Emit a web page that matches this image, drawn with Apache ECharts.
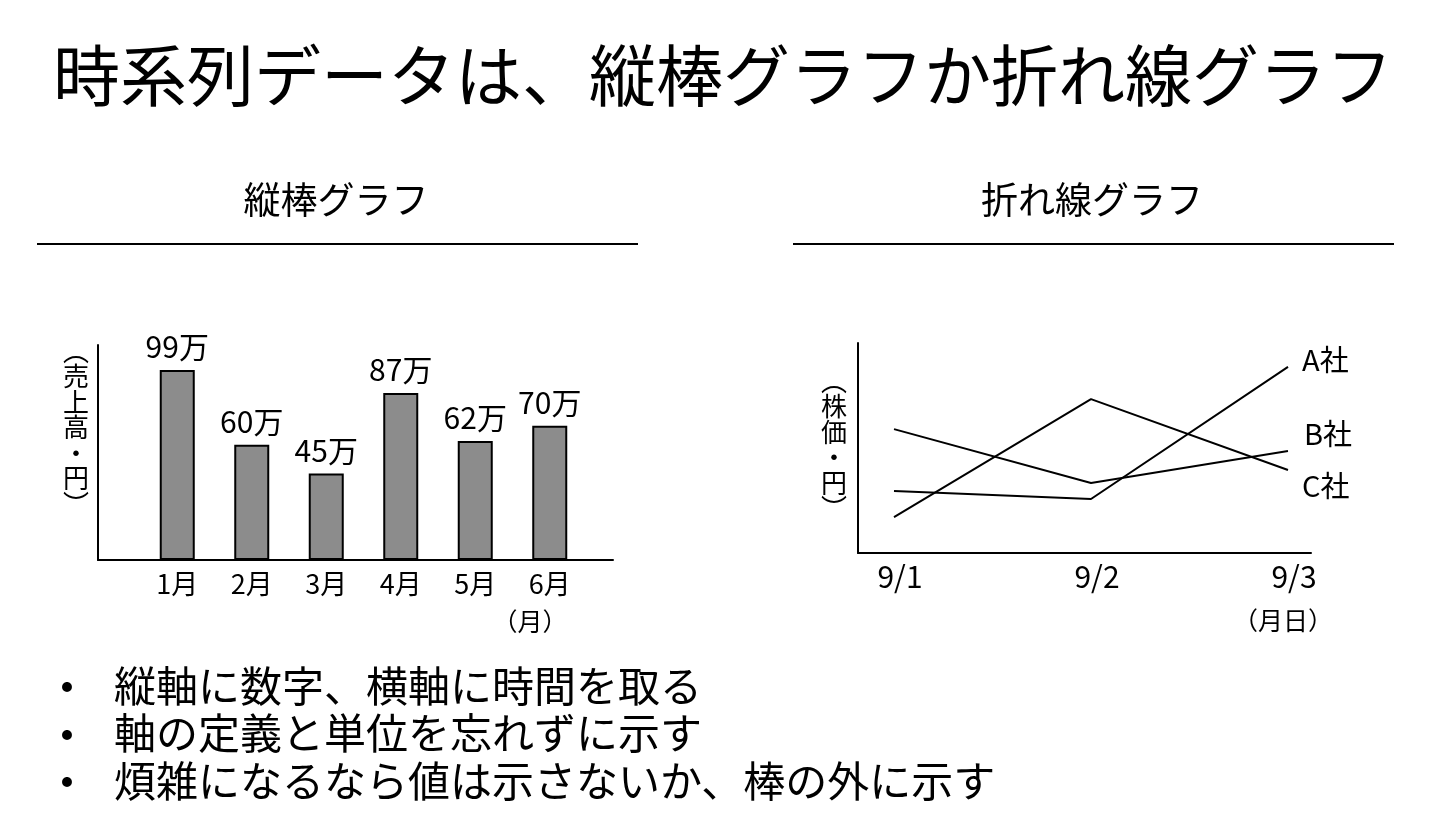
<!DOCTYPE html>
<html>
<head>
<meta charset="utf-8">
<script src="https://cdn.jsdelivr.net/npm/echarts@6/dist/echarts.min.js"></script>
<style>
html,body{margin:0;padding:0;background:#fff;}
#chart{width:1432px;height:837px;}
</style>
</head>
<body>
<div id="chart"></div>
<script>
// ---- data ----
const barMonths = ['1月', '2月', '3月', '4月', '5月', '6月'];
const barValues = [99, 60, 45, 87, 62, 70];   // 万円
const lineDates = ['9/1', '9/2', '9/3'];
const companyNames = ['A社', 'B社', 'C社'];
const companyA = [29.5, 25.7, 88.6];
const companyB = [59, 33.3, 48.6];
const companyC = [17.1, 73.3, 39.5];

const titleText = '時系列データは、縦棒グラフか折れ線グラフ';
const subTitles = ['縦棒グラフ', '折れ線グラフ'];
const bullets = ['縦軸に数字、横軸に時間を取る', '軸の定義と単位を忘れずに示す', '煩雑になるなら値は示さないか、棒の外に示す'];

const FONT = '"Noto Sans CJK JP", "Noto Sans", sans-serif';
const chart = echarts.init(document.getElementById('chart'));

function txt(text, x, y, size, align, vAlign, extra) {
  return {
    type: 'text', x: x, y: y, silent: true,
    style: Object.assign({
      text: text, fontSize: size, fontFamily: FONT, fill: '#000',
      align: align || 'center', verticalAlign: vAlign || 'middle'
    }, extra || {})
  };
}
function hline(x1, x2, y, w) {
  return { type: 'line', silent: true, shape: { x1: x1, y1: y, x2: x2, y2: y }, style: { stroke: '#000', lineWidth: w } };
}

const graphics = [
  txt(titleText, 723, 76, 67),
  txt(subTitles[0], 336, 200, 37),
  txt(subTitles[1], 1092, 200, 37),
  hline(37, 638, 244, 2),
  hline(793, 1394, 244, 2),
  txt('︵\n売\n上\n高\n・\n円\n︶', 76, 338, 26, 'center', 'top', { lineHeight: 25.5 }),
  txt('（月）', 530, 621, 25),
  txt('︵\n株\n価\n・\n円\n︶', 834, 368, 26, 'center', 'top', { lineHeight: 25.5 }),
  txt('（月日）', 1283, 620, 25)
];
bullets.forEach(function (b, i) {
  graphics.push(txt('●', 67, 687 + i * 47.5, 11));
  graphics.push(txt(b, 114, 686 + i * 47.5, 42, 'left', 'middle'));
});

const frameAxis = {
  type: 'value', min: 0, max: 1,
  axisLine: { show: true, onZero: false, lineStyle: { color: '#000', width: 2 } },
  axisTick: { show: false }, axisLabel: { show: false }, splitLine: { show: false }
};
function frame(gridIndex) {
  return Object.assign({}, frameAxis, { gridIndex: gridIndex });
}

const lineSeriesData = [companyA, companyB, companyC];
const endOffsets = [[14, -7], [16, -17], [14, 16]];

const option = {
  backgroundColor: '#fff',
  animation: false,
  graphic: graphics,
  grid: [
    { left: 98, top: 345, width: 515, height: 215 },   // bar frame
    { left: 140, top: 345, width: 447, height: 215 },  // bar data
    { left: 858, top: 343, width: 453, height: 210 },  // line frame
    { left: 894, top: 343, width: 394, height: 210 }   // line data
  ],
  xAxis: [
    frame(0),
    {
      type: 'category', gridIndex: 1, data: barMonths,
      axisLine: { show: false }, axisTick: { show: false },
      axisLabel: { margin: 10, fontSize: 27, fontFamily: FONT, color: '#000' }
    },
    frame(2),
    {
      type: 'category', gridIndex: 3, data: lineDates, boundaryGap: false,
      axisLine: { show: false }, axisTick: { show: false },
      axisLabel: { margin: 9, fontSize: 30, fontFamily: FONT, color: '#000', padding: [0, 0, 0, 12] }
    }
  ],
  yAxis: [
    frame(0),
    { type: 'value', gridIndex: 1, min: 0, max: 112, show: false },
    frame(2),
    { type: 'value', gridIndex: 3, min: 0, max: 100, show: false }
  ],
  series: [
    {
      type: 'bar', xAxisIndex: 1, yAxisIndex: 1, data: barValues,
      barWidth: 35,
      itemStyle: { color: '#8c8c8c', borderColor: '#000', borderWidth: 2 },
      label: {
        show: true, position: 'top', distance: 8, formatter: '{c}万',
        fontSize: 30, fontFamily: FONT, color: '#000'
      }
    }
  ].concat(lineSeriesData.map(function (d, i) {
    return {
      type: 'line', name: companyNames[i], xAxisIndex: 3, yAxisIndex: 3, data: d,
      symbol: 'none', lineStyle: { color: '#000', width: 2 },
      endLabel: {
        show: true, formatter: '{a}', distance: 0, offset: endOffsets[i],
        fontSize: 29, fontFamily: FONT, color: '#000'
      }
    };
  }))
};
chart.setOption(option);
</script>
</body>
</html>
